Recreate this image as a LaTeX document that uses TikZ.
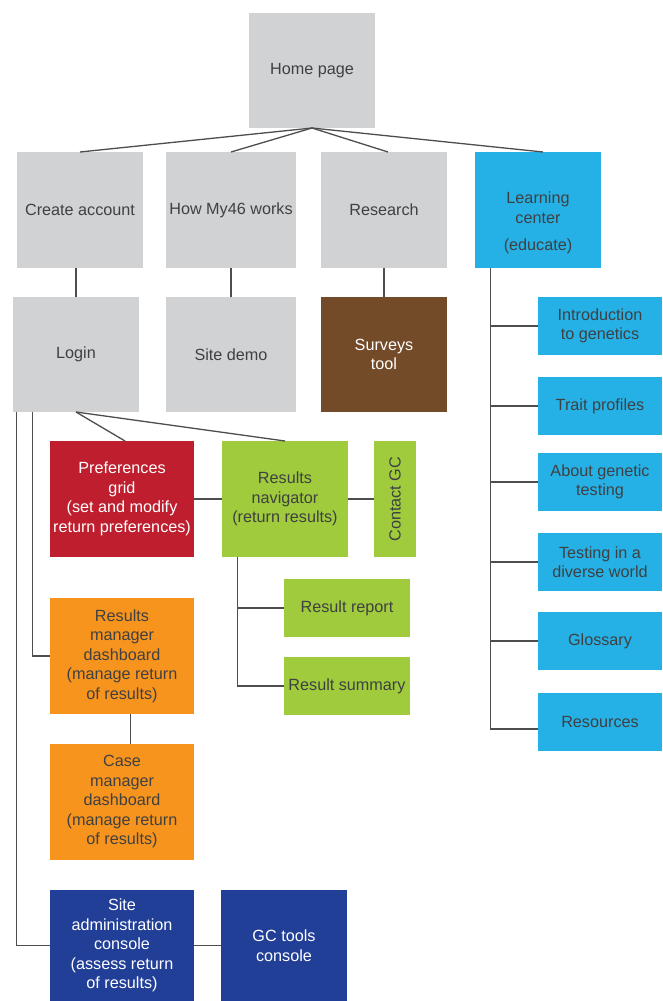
\documentclass[tikz,border=0pt]{standalone}
\usepackage{fontspec}
\setmainfont{Liberation Sans}
\definecolor{cgrey}{HTML}{D1D2D4}
\definecolor{cblue}{HTML}{25B1E6}
\definecolor{cred}{HTML}{BE1E2D}
\definecolor{cbrown}{HTML}{744B28}
\definecolor{cgreen}{HTML}{9FCB3C}
\definecolor{corange}{HTML}{F7941E}
\definecolor{cnavy}{HTML}{223F98}
\definecolor{ctext}{HTML}{3F4041}
\definecolor{cline}{HTML}{4D4D4D}
\begin{document}
\begin{tikzpicture}[x=1pt,y=-1pt,
  box/.style={inner sep=0pt,outer sep=0pt,align=center,text=ctext,
    font=\fontsize{16.2}{19.5}\selectfont},
  gbox/.style={box,fill=cgrey},
  bbox/.style={box,fill=cblue},
  rbox/.style={box,fill=cred,text=white},
  brbox/.style={box,fill=cbrown,text=white},
  grbox/.style={box,fill=cgreen},
  obox/.style={box,fill=corange},
  nbox/.style={box,fill=cnavy,text=white},
  sz/.style 2 args={minimum width=#1pt,minimum height=#2pt},
  conn/.style={draw=cline,line width=1.3pt}]
\useasboundingbox (0,0) rectangle (662,1001);
% top rows
\node[gbox,sz={126}{115}] (home) at (312,70.5) {Home page};
\node[gbox,sz={126}{116}] (create) at (80,210) {Create account};
\node[gbox,sz={130}{116}] (how) at (231,210) {How My46 works};
\node[gbox,sz={126}{116}] (research) at (384,210) {Research};
\node[bbox,sz={126}{116}] (learn) at (538,210) {};
\node[box] (learnT) at (538,223) {Learning\\center\\[8pt](educate)};
\node[gbox,sz={126}{115}] (login) at (76,354.5) {Login};
\node[gbox,sz={130}{115}] (demo) at (231,354.5) {Site demo};
\node[brbox,sz={126}{115}] (surveys) at (384,354.5) {Surveys\\tool};
% middle
\node[rbox,sz={144}{116}] (pref) at (122,499) {Preferences\\grid\\(set and modify\\return preferences)};
\node[grbox,sz={126}{116}] (nav) at (285,499) {Results\\navigator\\(return results)};
\node[grbox,sz={116}{42},rotate=90] (contact) at (395,499) {Contact GC};
\node[grbox,sz={126}{58}] (report) at (347,608) {Result report};
\node[grbox,sz={126}{58}] (summary) at (347,686) {Result summary};
\node[obox,sz={144}{116}] (rmgr) at (122,656) {Results\\manager\\dashboard\\(manage return\\of results)};
\node[obox,sz={144}{116}] (cmgr) at (122,802) {Case\\manager\\dashboard\\(manage return\\of results)};
\node[nbox,sz={144}{111}] (admin) at (122,945.5) {Site\\administration\\console\\(assess return\\of results)};
\node[nbox,sz={126}{111}] (gctools) at (284,945.5) {GC tools\\console};
% learning center children
\node[bbox,sz={124}{58}] (intro) at (600,326) {Introduction\\to genetics};
\node[bbox,sz={124}{58}] (trait) at (600,406) {Trait profiles};
\node[bbox,sz={124}{58}] (about) at (600,482) {About genetic\\testing};
\node[bbox,sz={124}{58}] (diverse) at (600,562) {Testing in a\\diverse world};
\node[bbox,sz={124}{58}] (gloss) at (600,641) {Glossary};
\node[bbox,sz={124}{58}] (res) at (600,722) {Resources};
% connectors
\draw[conn] (home.south) -- (create.north);
\draw[conn] (home.south) -- (how.north);
\draw[conn] (home.south) -- ([xshift=4pt]research.north);
\draw[conn] (home.south) -- ([xshift=5pt]learn.north);
\draw[conn] (login.north) -- (login.north |- create.south);
\draw[conn] (demo.north) -- (how.south);
\draw[conn] (surveys.north) -- (research.south);
\draw[conn] (login.south) -- ([xshift=3pt]pref.north);
\draw[conn] (login.south) -- (nav.north);
\draw[conn] (pref.east) -- (nav.west);
\draw[conn] (nav.east) -- (contact.north);
\coordinate (navT) at ([xshift=-47.3pt]nav.south);
\draw[conn] (navT) |- (summary.west);
\draw[conn] (navT |- report.west) -- (report.west);
\coordinate (logA) at ([xshift=3.7pt]login.south west);
\coordinate (logB) at ([xshift=19.3pt]login.south west);
\draw[conn] (logA) |- (admin.west);
\draw[conn] (logB) |- (rmgr.west);
\draw[conn] ([xshift=8.7pt]rmgr.south) -- ([xshift=8.7pt]cmgr.north);
\draw[conn] (admin.east) -- (gctools.west);
\coordinate (lcT) at ([xshift=-47.3pt]learn.south);
\draw[conn] (lcT) |- ([yshift=-7pt]res.west);
\foreach \n in {intro,trait,about,diverse,gloss}
  \draw[conn] (lcT |- \n.west) -- (\n.west);
\end{tikzpicture}
\end{document}
